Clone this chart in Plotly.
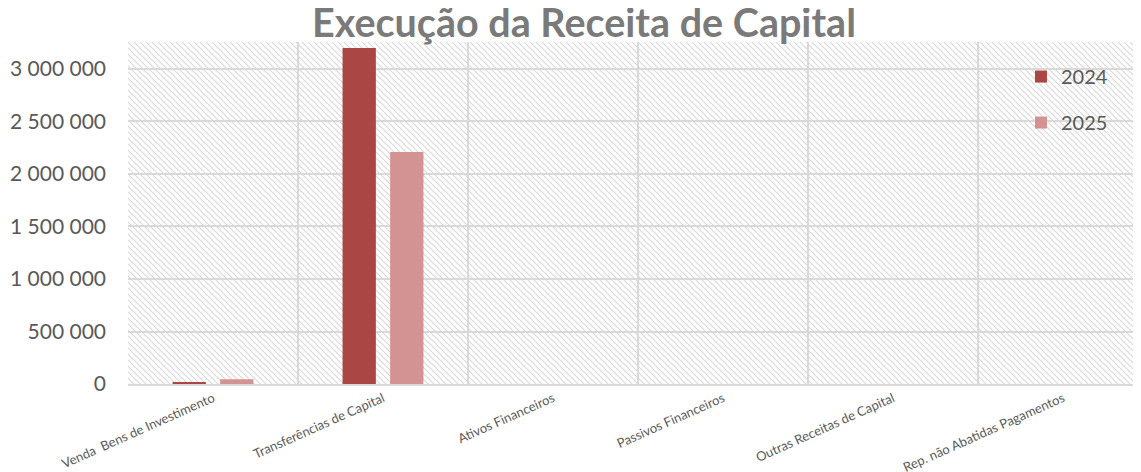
import base64
import plotly.graph_objects as go

categories = ["Venda  Bens de Investimento", "Transferências de Capital", "Ativos Financeiros",
              "Passivos Financeiros", "Outras Receitas de Capital", "Rep. não Abatidas Pagamentos"]
series_names = ["2024", "2025"]
values_2024 = [20000, 3200000, 0, 0, 0, 0]
values_2025 = [45000, 2210000, 0, 0, 0, 0]
colors = ["#AA4644", "#D39392"]
title_text = "Execução da Receita de Capital"

# page body has an 8px margin; figure sized to fit the 1141x472 window
OFF = 8
W, H = 1141 - OFF, 472 - OFF
ML, MR, MT, MB = 128 - OFF, 0, 42 - OFF, 88
PW, PH = W - ML - MR, H - MT - MB

svg = (f"<svg xmlns='http://www.w3.org/2000/svg' width='{PW}' height='{PH}' viewBox='0 0 {PW} {PH}' preserveAspectRatio='none'>"
       "<defs><pattern id='p' width='6' height='6' patternUnits='userSpaceOnUse'>"
       "<path d='M-1,-1 L7,7 M-1,5 L1,7 M5,-1 L7,1' stroke='#d9d9d9' stroke-width='1.2'/></pattern></defs>"
       "<rect width='100%' height='100%' fill='url(#p)'/></svg>")
src = "data:image/svg+xml;base64," + base64.b64encode(svg.encode()).decode()

fig = go.Figure()
for name, vals, col in zip(series_names, [values_2024, values_2025], colors):
    fig.add_trace(go.Bar(x=categories, y=vals, name=name, marker=dict(color=col, line=dict(width=0)),
                         legendgroup=name))

fig.update_layout(
    width=W, height=H,
    margin=dict(l=ML, r=MR, t=MT, b=MB, autoexpand=False),
    paper_bgcolor="white", plot_bgcolor="rgba(0,0,0,0)",
    barmode="group", bargap=0.44, bargroupgap=0.3,
    separators=", ",
    font=dict(family="Lato", color="#595959"),
    title=dict(text=f"<b>{title_text}</b>", x=(584 - OFF) / W, xanchor="center", y=0.997, yanchor="top",
               font=dict(size=39.5, color="#7a7a7a", family="Lato")),
    images=[dict(source=src, xref="paper", yref="paper", x=0, y=1, sizex=1, sizey=1,
                 sizing="stretch", xanchor="left", yanchor="top", layer="below")],
    legend=dict(x=0.8815, y=0.956, xanchor="left", yanchor="top", font=dict(size=20, color="#595959"),
                bgcolor="rgba(0,0,0,0)", tracegroupgap=17, itemwidth=30),
    showlegend=True,
)
fig.update_xaxes(type="category", range=[-0.5, -0.5 + PW / 170.0], tickson="boundaries",
                 showgrid=True, gridcolor="#d9d9d9", gridwidth=2, ticks="", automargin=False,
                 showline=True, linecolor="#d9d9d9", linewidth=2,
                 tickangle=-24, tickfont=dict(size=13, color="#595959"))
fig.update_yaxes(range=[0, 3257000], tickvals=[0, 500000, 1000000, 1500000, 2000000, 2500000, 3000000],
                 tickformat=",d", showgrid=True, gridcolor="#d9d9d9", gridwidth=2, zeroline=False,
                 automargin=False, ticks="", tickfont=dict(size=21, color="#595959"), ticklabelstandoff=21)

fig.write_html("out.html")
